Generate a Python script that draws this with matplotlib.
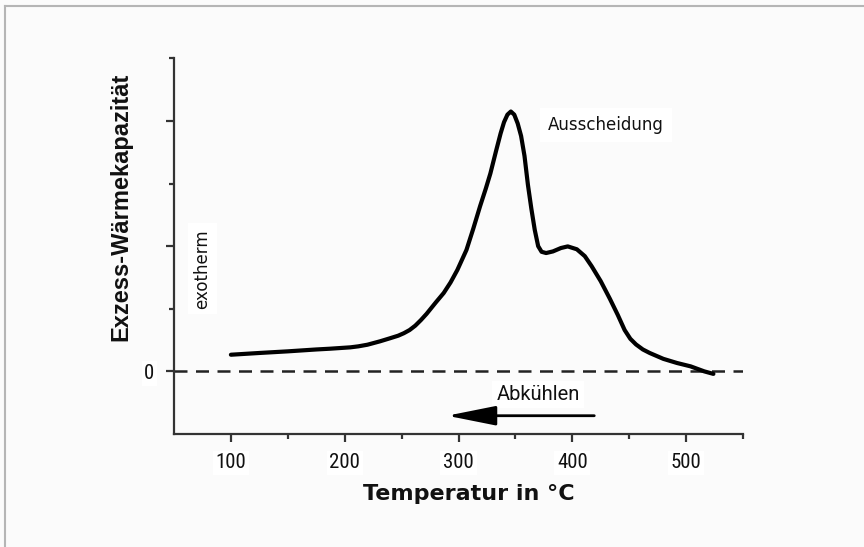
import matplotlib
matplotlib.use("Agg")
import matplotlib.pyplot as plt
from matplotlib import font_manager
from matplotlib.lines import Line2D

# --- data ---
temp = [100, 125, 150, 175, 187, 205, 212, 220, 231, 240, 247, 252, 257, 262,
        267, 272, 280, 287, 293, 299, 307, 313, 319, 324, 328, 333, 337, 340,
        343, 346, 349, 352, 355, 358, 361, 364, 367, 370, 373, 377, 383, 390,
        396, 404, 411, 417, 425, 433, 440, 446, 451, 456, 462, 468, 480, 492,
        504, 510, 516, 524]
cp = [0.133, 0.147, 0.16, 0.175, 0.181, 0.192, 0.20, 0.213, 0.24, 0.265, 0.285,
      0.305, 0.33, 0.365, 0.41, 0.46, 0.55, 0.626, 0.71, 0.81, 0.97, 1.14, 1.32,
      1.46, 1.58, 1.76, 1.90, 1.99, 2.05, 2.075, 2.05, 1.98, 1.88, 1.72, 1.49,
      1.30, 1.13, 1.0, 0.955, 0.945, 0.958, 0.985, 0.998, 0.975, 0.92, 0.84,
      0.72, 0.58, 0.45, 0.33, 0.26, 0.215, 0.175, 0.147, 0.10, 0.067, 0.04,
      0.02, 0.0, -0.02]

x_major = [100, 200, 300, 400, 500]
x_minor = [150, 250, 350, 450, 550]
y_major = [0, 1, 2]
y_labels = ["0", "", ""]
y_minor = [0.5, 1.5, 2.5]

# pick a narrow font for the DIN-like tick labels if one is installed
names = {f.name for f in font_manager.fontManager.ttflist}
narrow = "Roboto"
for cand in ["Liberation Sans Narrow", "Roboto Condensed", "Open Sans Condensed"]:
    if cand in names:
        narrow = cand
        break

fig = plt.figure(figsize=(8.64, 5.47), dpi=100, facecolor="#fbfbfb")
ax = fig.add_axes([174 / 864, 1 - 434 / 547, (743 - 174) / 864, (434 - 58.3) / 547])
ax.set_facecolor("#fbfbfb")

# outer frame (top and left only)
fig.add_artist(Line2D([0.006, 1], [1 - 6 / 547, 1 - 6 / 547], color="#b5b5b5", lw=1.5))
fig.add_artist(Line2D([0.006, 0.006], [0, 1 - 6 / 547], color="#b5b5b5", lw=1.5))

ax.plot(temp, cp, color="black", lw=3.0, solid_capstyle="round",
        solid_joinstyle="round", zorder=3)
ax.axhline(0, color="#222222", lw=1.8, linestyle=(0, (5.2, 3.4)), zorder=2)

ax.set_xlim(50, 550)
ax.set_ylim(-0.5, 2.5)

for s in ["top", "right"]:
    ax.spines[s].set_visible(False)
for s in ["left", "bottom"]:
    ax.spines[s].set_linewidth(1.6)
    ax.spines[s].set_color("#333333")

ax.set_xticks(x_major)
ax.set_xticks(x_minor, minor=True)
ax.set_yticks(y_major, labels=y_labels)
ax.set_yticks(y_minor, minor=True)
ax.tick_params(axis="both", which="major", direction="out", length=6, width=1.6,
               color="#333333", labelsize=15, pad=8)
ax.tick_params(axis="both", which="minor", direction="out", length=3.5, width=1.6,
               color="#333333")
for lab in ax.get_xticklabels() + ax.get_yticklabels():
    lab.set_family(narrow)
    lab.set_color("#111111")
    lab.set_bbox(dict(facecolor="white", edgecolor="none", pad=2))

# axis titles placed where they sit in the picture
fig.text(121 / 864, 1 - 207 / 547, "Exzess-Wärmekapazität", rotation=90,
         ha="center", va="center", fontsize=17, fontweight="bold",
         family="Liberation Sans", color="#111111")
fig.text(469 / 864, 1 - 494 / 547, "Temperatur in °C", ha="center", va="center",
         fontsize=16, fontweight="bold", family="DejaVu Sans", color="#111111")

ax.text(74.9, 0.82, "exotherm", rotation=90, ha="center", va="center",
        fontsize=12, family="DejaVu Sans", color="#111111",
        bbox=dict(facecolor="white", edgecolor="none", pad=4))
ax.text(429.8, 1.968, "Ausscheidung", ha="center", va="center", fontsize=12,
        family="DejaVu Sans", color="#111111",
        bbox=dict(facecolor="white", edgecolor="none", pad=6))
ax.text(370, -0.186, "Abkühlen", ha="center", va="center", fontsize=14.5,
        family="Roboto", color="#111111",
        bbox=dict(facecolor="white", edgecolor="none", pad=3))

ax.annotate("", xy=(290, -0.354), xytext=(419.3, -0.354),
            arrowprops=dict(arrowstyle="-|>,head_length=3.0,head_width=0.6",
                            color="black", lw=2.0, shrinkA=0, shrinkB=0))

fig.savefig("out.png", dpi=100, facecolor=fig.get_facecolor())
